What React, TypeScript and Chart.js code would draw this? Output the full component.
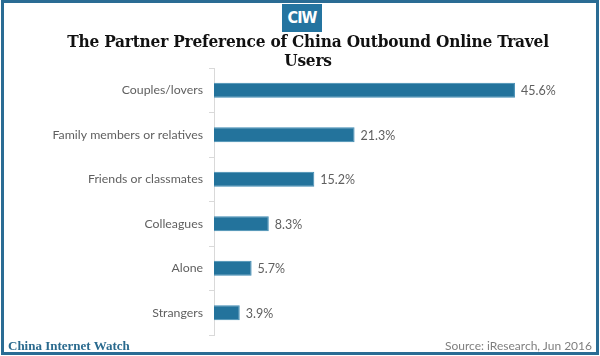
import React, { useEffect, useRef } from "react";
import { Chart, registerables } from "chart.js";

Chart.register(...registerables);

const categories: string[] = [
  "Couples/lovers",
  "Family members or relatives",
  "Friends or classmates",
  "Colleagues",
  "Alone",
  "Strangers",
];
const shares: number[] = [45.6, 21.3, 15.2, 8.3, 5.7, 3.9];
const valueLabels: string[] = ["45.6%", "21.3%", "15.2%", "8.3%", "5.7%", "3.9%"];

const titleLines: string[] = ["The Partner Preference of China Outbound Online Travel", "Users"];
const brandText = "CIW";
const footerLeft = "China Internet Watch";
const footerRight = "Source: iResearch, Jun 2016";

const BLUE = "#23739c";
const GRAY = "#5f5f5f";
const LABEL_FONT = "Lato, 'Open Sans', sans-serif";

const valueLabelPlugin = {
  id: "valueLabels",
  afterDatasetsDraw(chart: any) {
    const ctx = chart.ctx;
    const meta = chart.getDatasetMeta(0);
    ctx.save();
    ctx.font = `12.5px ${LABEL_FONT}`;
    ctx.fillStyle = GRAY;
    ctx.textAlign = "left";
    ctx.textBaseline = "middle";
    meta.data.forEach((bar: any, i: number) => {
      ctx.fillText(valueLabels[i], bar.x + 6, bar.y + 1);
    });
    ctx.restore();
  },
};

export default function App() {
  const canvasRef = useRef<HTMLCanvasElement | null>(null);

  useEffect(() => {
    if (!canvasRef.current) return;
    const chart = new Chart(canvasRef.current, {
      type: "bar",
      data: {
        labels: categories,
        datasets: [
          {
            data: shares,
            backgroundColor: BLUE,
            borderColor: "#3f8bb3",
            borderWidth: 1,
            categoryPercentage: 1,
            barPercentage: 0.34,
          },
        ],
      },
      options: {
        indexAxis: "y",
        animation: false,
        responsive: false,
        maintainAspectRatio: false,
        layout: { padding: { top: 68, bottom: 21, left: 0, right: 56 } },
        plugins: {
          legend: { display: false },
          title: { display: false },
          tooltip: { enabled: false },
        },
        scales: {
          x: {
            display: false,
            min: 0,
            max: 50,
          },
          y: {
            afterFit(scale: any) {
              scale.width = 214;
            },
            grid: {
              display: true,
              drawOnChartArea: false,
              drawTicks: true,
              tickLength: 5,
              color: "#d9d9d9",
              offset: true,
            },
            border: { display: true, color: "#d9d9d9", width: 1 },
            ticks: {
              color: GRAY,
              padding: 6,
              font: { family: LABEL_FONT, size: 12.3 },
            },
          },
        },
      },
      plugins: [valueLabelPlugin],
    });
    return () => chart.destroy();
  }, []);

  return (
    <div
      style={{
        position: "fixed",
        left: 0,
        top: 0,
        width: 600,
        height: 356,
        background: "#ffffff",
        overflow: "hidden",
      }}
    >
      <canvas
        ref={canvasRef}
        width={600}
        height={356}
        style={{ position: "absolute", left: 0, top: 0, width: 600, height: 356 }}
      />
      <div
        style={{
          position: "absolute",
          left: 1,
          top: 0,
          width: 598,
          height: 355,
          boxSizing: "border-box",
          border: "3px solid #2a6c94",
          pointerEvents: "none",
        }}
      />
      <div
        style={{
          position: "absolute",
          left: 282,
          top: 4,
          width: 40,
          height: 28,
          background: "#2474a0",
          color: "#ffffff",
          fontFamily: "'DejaVu Sans Condensed', 'DejaVu Sans', sans-serif",
          fontStretch: "condensed",
          fontWeight: 700,
          fontSize: 16,
          lineHeight: "28px",
          textAlign: "center",
          letterSpacing: -1,
        }}
      >
        {brandText}
      </div>
      <div
        style={{
          position: "absolute",
          left: 8,
          top: 32,
          width: 600,
          textAlign: "center",
          fontFamily: "'DejaVu Serif', 'Liberation Serif', serif",
          fontStretch: "condensed",
          fontWeight: 700,
          fontSize: 17.1,
          lineHeight: "19px",
          letterSpacing: -0.2,
          color: "#111111",
        }}
      >
        {titleLines.map((t, i) => (
          <div key={i}>{t}</div>
        ))}
      </div>
      <div
        style={{
          position: "absolute",
          left: 8,
          top: 339,
          fontFamily: "'Liberation Serif', 'DejaVu Serif', serif",
          fontWeight: 700,
          fontSize: 13,
          lineHeight: "14px",
          color: "#2a6a8e",
        }}
      >
        {footerLeft}
      </div>
      <div
        style={{
          position: "absolute",
          right: 8,
          top: 339,
          fontFamily: LABEL_FONT,
          fontSize: 12,
          lineHeight: "14px",
          color: "#7f7f7f",
        }}
      >
        {footerRight}
      </div>
    </div>
  );
}
